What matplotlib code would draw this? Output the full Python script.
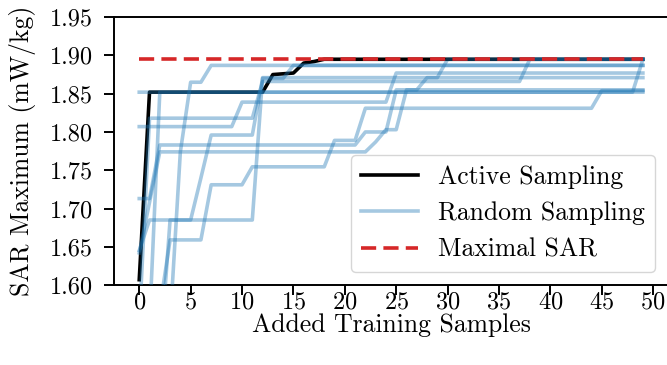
import matplotlib
matplotlib.use("Agg")
import matplotlib.pyplot as plt
import numpy as np

plt.rcParams['font.family'] = 'serif'
plt.rcParams['font.serif'] = ['cmr10']
plt.rcParams['mathtext.fontset'] = 'cm'
plt.rcParams['axes.formatter.use_mathtext'] = True
plt.rcParams['font.size'] = 17.5

# number of added training samples
samples = np.arange(50)

max_sar = 1.895

active = [1.607, 1.852, 1.852, 1.852, 1.852, 1.852, 1.852, 1.852, 1.852, 1.852,
          1.852, 1.852, 1.852, 1.875, 1.876, 1.877, 1.890, 1.892, 1.895, 1.895,
          1.895, 1.895, 1.895, 1.895, 1.895, 1.895, 1.895, 1.895, 1.895, 1.895,
          1.895, 1.895, 1.895, 1.895, 1.895, 1.895, 1.895, 1.895, 1.895, 1.895,
          1.895, 1.895, 1.895, 1.895, 1.895, 1.895, 1.895, 1.895, 1.895, 1.895]

rand1 = [1.852, 1.852, 1.852, 1.852, 1.852, 1.852, 1.852, 1.852, 1.852, 1.852,
         1.852, 1.852, 1.852, 1.852, 1.852, 1.852, 1.852, 1.852, 1.852, 1.852,
         1.852, 1.852, 1.852, 1.852, 1.852, 1.852, 1.852, 1.852, 1.852, 1.852,
         1.852, 1.852, 1.852, 1.852, 1.852, 1.852, 1.852, 1.852, 1.852, 1.852,
         1.852, 1.852, 1.852, 1.852, 1.852, 1.852, 1.852, 1.852, 1.852, 1.895]

rand2 = [1.500, 1.550, 1.852, 1.852, 1.852, 1.852, 1.852, 1.852, 1.852, 1.852,
         1.852, 1.852, 1.852, 1.852, 1.852, 1.852, 1.852, 1.852, 1.852, 1.852,
         1.852, 1.852, 1.852, 1.852, 1.852, 1.852, 1.852, 1.852, 1.852, 1.852,
         1.852, 1.852, 1.852, 1.852, 1.852, 1.852, 1.852, 1.852, 1.852, 1.852,
         1.852, 1.852, 1.852, 1.852, 1.852, 1.852, 1.852, 1.852, 1.852, 1.852]

rand3 = [1.807, 1.807, 1.807, 1.807, 1.807, 1.807, 1.807, 1.807, 1.807, 1.807,
         1.839, 1.839, 1.839, 1.839, 1.839, 1.839, 1.839, 1.839, 1.839, 1.839,
         1.839, 1.839, 1.839, 1.839, 1.839, 1.877, 1.877, 1.877, 1.877, 1.877,
         1.877, 1.877, 1.877, 1.877, 1.877, 1.877, 1.877, 1.877, 1.877, 1.877,
         1.877, 1.877, 1.877, 1.877, 1.877, 1.877, 1.877, 1.877, 1.877, 1.877]

rand4 = [1.645, 1.685, 1.685, 1.685, 1.685, 1.685, 1.685, 1.685, 1.685, 1.685,
         1.685, 1.685, 1.871, 1.871, 1.871, 1.871, 1.871, 1.871, 1.871, 1.871,
         1.871, 1.871, 1.871, 1.871, 1.871, 1.871, 1.871, 1.871, 1.871, 1.871,
         1.871, 1.871, 1.871, 1.871, 1.871, 1.871, 1.871, 1.871, 1.871, 1.871,
         1.871, 1.871, 1.871, 1.871, 1.871, 1.871, 1.871, 1.871, 1.871, 1.871]

rand5 = [1.713, 1.713, 1.783, 1.783, 1.783, 1.783, 1.783, 1.783, 1.783, 1.783,
         1.783, 1.783, 1.783, 1.783, 1.783, 1.783, 1.783, 1.783, 1.783, 1.783,
         1.783, 1.783, 1.800, 1.800, 1.800, 1.855, 1.855, 1.855, 1.855, 1.855,
         1.855, 1.855, 1.855, 1.855, 1.855, 1.855, 1.855, 1.855, 1.855, 1.855,
         1.855, 1.855, 1.855, 1.855, 1.855, 1.855, 1.855, 1.855, 1.855, 1.855]

rand6 = [1.642, 1.708, 1.774, 1.774, 1.774, 1.774, 1.774, 1.774, 1.774, 1.774,
         1.774, 1.774, 1.774, 1.774, 1.774, 1.774, 1.774, 1.774, 1.774, 1.774,
         1.774, 1.774, 1.774, 1.787, 1.803, 1.803, 1.855, 1.855, 1.871, 1.871,
         1.895, 1.895, 1.895, 1.895, 1.895, 1.895, 1.895, 1.895, 1.895, 1.895,
         1.895, 1.895, 1.895, 1.895, 1.895, 1.895, 1.895, 1.895, 1.895, 1.895]

rand7 = [1.550, 1.818, 1.818, 1.818, 1.818, 1.818, 1.818, 1.818, 1.818, 1.818,
         1.818, 1.818, 1.866, 1.866, 1.866, 1.866, 1.866, 1.866, 1.866, 1.866,
         1.866, 1.866, 1.866, 1.866, 1.866, 1.866, 1.866, 1.866, 1.866, 1.866,
         1.866, 1.866, 1.866, 1.866, 1.866, 1.866, 1.866, 1.866, 1.895, 1.895,
         1.895, 1.895, 1.895, 1.895, 1.895, 1.895, 1.895, 1.895, 1.895, 1.895]

rand8 = [1.450, 1.480, 1.500, 1.550, 1.774, 1.865, 1.865, 1.887, 1.887, 1.887,
         1.887, 1.887, 1.887, 1.887, 1.887, 1.887, 1.887, 1.887, 1.887, 1.887,
         1.887, 1.887, 1.887, 1.887, 1.887, 1.887, 1.887, 1.887, 1.887, 1.887,
         1.887, 1.887, 1.887, 1.887, 1.887, 1.887, 1.887, 1.887, 1.887, 1.887,
         1.887, 1.887, 1.887, 1.887, 1.887, 1.887, 1.887, 1.887, 1.887, 1.887]

rand9 = [1.400, 1.450, 1.570, 1.659, 1.659, 1.659, 1.659, 1.731, 1.731, 1.731,
         1.731, 1.7545, 1.7545, 1.7545, 1.7545, 1.7545, 1.7545, 1.7545, 1.7545, 1.789,
         1.789, 1.789, 1.831, 1.831, 1.831, 1.831, 1.831, 1.831, 1.831, 1.831,
         1.831, 1.831, 1.831, 1.831, 1.831, 1.831, 1.831, 1.831, 1.831, 1.831,
         1.831, 1.831, 1.831, 1.831, 1.831, 1.854, 1.854, 1.854, 1.854, 1.854]

rand10 = [1.400, 1.450, 1.500, 1.685, 1.685, 1.685, 1.740, 1.796, 1.796, 1.796,
          1.796, 1.796, 1.870, 1.870, 1.870, 1.887, 1.887, 1.887, 1.887, 1.887,
          1.887, 1.887, 1.887, 1.887, 1.887, 1.887, 1.887, 1.887, 1.887, 1.887,
          1.887, 1.887, 1.887, 1.887, 1.887, 1.887, 1.887, 1.887, 1.887, 1.887,
          1.887, 1.887, 1.887, 1.887, 1.887, 1.887, 1.887, 1.887, 1.887, 1.887]

random_runs = [rand1, rand2, rand3, rand4, rand5, rand6, rand7, rand8, rand9, rand10]

fig = plt.figure(figsize=(6.67, 3.65), dpi=100)
ax = fig.add_axes([0.171, 0.219, 0.8306, 0.734])

lw = 2.6
ax.plot(samples, active, color='black', lw=lw, solid_capstyle='projecting',
        label='Active Sampling', zorder=3)
for k, run in enumerate(random_runs):
    ax.plot(samples, run, color='tab:blue', alpha=0.4, lw=lw,
            solid_capstyle='projecting',
            label='Random Sampling' if k == 0 else None, zorder=4)
ax.plot(samples, [max_sar] * len(samples), color='tab:red', lw=lw,
        dashes=(4.2, 2.0), label='Maximal SAR', zorder=5)

ax.set_xlim(-2.45, 51.45)
ax.set_ylim(1.60, 1.95)
ax.set_xticks(np.arange(0, 51, 5))
ax.set_yticks(np.arange(1.60, 1.951, 0.05))
ax.set_yticklabels([f'{v:.2f}' for v in np.arange(1.60, 1.951, 0.05)])
ax.set_xlabel('Added Training Samples', fontsize=18.5, labelpad=0)
ax.set_ylabel('SAR Maximum (mW/kg)', fontsize=18.5, labelpad=10)
for s in ax.spines.values():
    s.set_linewidth(1.4)
ax.tick_params(width=1.4, length=7)
ax.tick_params(axis='y', pad=8)
ax.tick_params(axis='x', pad=-2.8)

ax.legend(loc='lower right', handlelength=2.2, edgecolor='#cccccc',
          fancybox=True, fontsize=18.5)

fig.savefig('out.png', dpi=100)
